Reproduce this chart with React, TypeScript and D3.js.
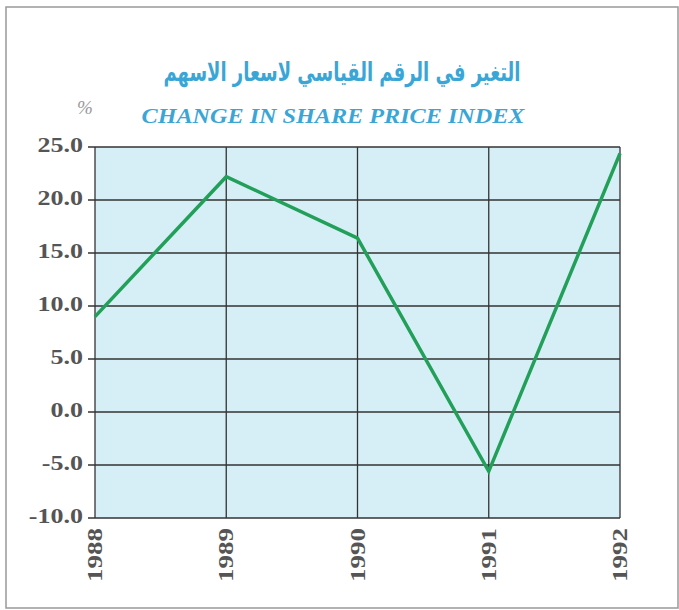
import * as d3 from 'd3';

const width = 679;
const height = 610;
const margin = { top: 147, right: 59, bottom: 92, left: 95 };

const years = ['1988', '1989', '1990', '1991', '1992'];
const changes = [9.0, 22.2, 16.4, -5.6, 24.4];
const yTicks = [25, 20, 15, 10, 5, 0, -5, -10];

const titleAr = 'التغير في الرقم القياسي لاسعار الاسهم';
const titleEn = 'CHANGE IN SHARE PRICE INDEX';

const blue = '#3aa6d6';
const green = '#22a05a';
const labelColor = '#555';

export default function App() {
    const x = d3.scalePoint<string>()
        .domain(years)
        .range([margin.left, width - margin.right]);
    const y = d3.scaleLinear()
        .domain([-10, 25])
        .range([height - margin.bottom, margin.top]);

    const line = d3.line<number>()
        .x((_, i) => x(years[i]) as number)
        .y(d => y(d));

    const left = margin.left;
    const right = width - margin.right;
    const top = margin.top;
    const bottom = height - margin.bottom;

    return (
        <svg width={width} height={height} style={{ position: 'absolute', left: 0, top: 0 }}>
            <rect x={6} y={7} width={672} height={601} fill="white" stroke="#999" strokeWidth={1.5} />

            {/* titles */}
            <text x={342} y={81} textAnchor="middle" fontFamily="DejaVu Sans" fontWeight="bold"
                fontSize={26} fill={blue} textLength={357} lengthAdjust="spacingAndGlyphs">
                {titleAr}
            </text>
            <text x={333} y={123} textAnchor="middle" fontFamily="'Liberation Serif', 'Times New Roman', serif" fontWeight="bold"
                fontStyle="italic" fontSize={21} fill={blue} textLength={383} lengthAdjust="spacingAndGlyphs">
                {titleEn}
            </text>
            <text x={85} y={114} textAnchor="middle" fontFamily="'Liberation Serif', serif" fontStyle="italic"
                fontSize={19} fill="#999">%</text>

            {/* plot area */}
            <rect x={left} y={top} width={right - left} height={bottom - top} fill="#d6eff6" />

            {yTicks.map(t => (
                <g key={t}>
                    <line x1={left - 7} x2={right} y1={y(t)} y2={y(t)} stroke="#333" strokeWidth={1.3} />
                    <text transform={`translate(${left - 12},${y(t) + 5}) scale(1.3,1)`} textAnchor="end"
                        fontFamily="'Liberation Serif', 'Times New Roman', serif" fontWeight="bold" fontSize={20} fill={labelColor}>
                        {t.toFixed(1)}
                    </text>
                </g>
            ))}

            {years.map(yr => (
                <g key={yr}>
                    <line x1={x(yr)} x2={x(yr)} y1={top} y2={bottom} stroke="#333" strokeWidth={1.3} />
                    <text transform={`translate(${(x(yr) as number) + 7},${bottom + 10}) rotate(-90) scale(1.35,1)`}
                        textAnchor="end" fontFamily="'Liberation Serif', 'Times New Roman', serif" fontWeight="bold" fontSize={20}
                        fill={labelColor}>
                        {yr}
                    </text>
                </g>
            ))}

            <path d={line(changes) || ''} fill="none" stroke={green} strokeWidth={3.5} strokeLinejoin="miter" />
        </svg>
    );
}
